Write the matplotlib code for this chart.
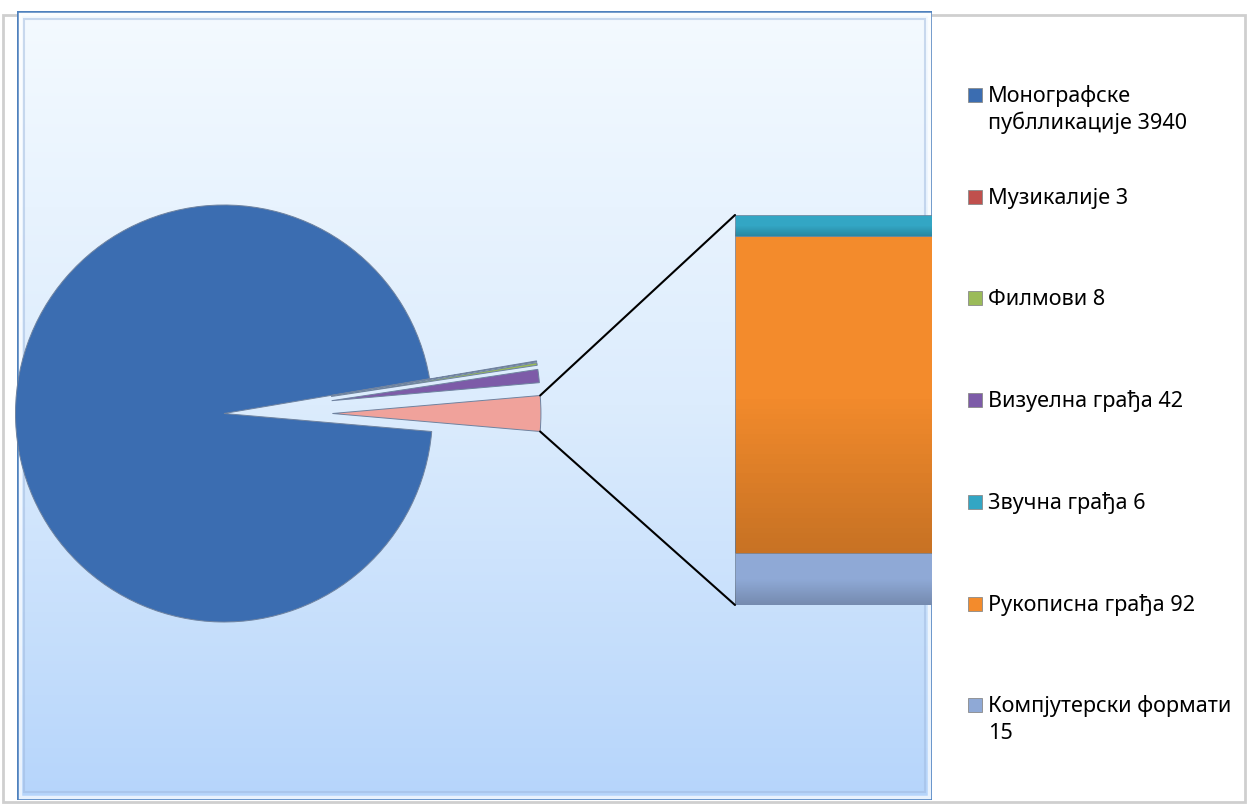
import textwrap
import numpy as np
import matplotlib
matplotlib.use("Agg")
import matplotlib.pyplot as plt
from matplotlib.patches import Rectangle, ConnectionPatch
from matplotlib.colors import LinearSegmentedColormap

plt.rcParams['font.family'] = ['Noto Sans', 'DejaVu Sans']

# ---------------- data ----------------
pie_labels = ["Монографске публликације", "Музикалије", "Филмови", "Визуелна грађа"]
pie_values = [3940, 3, 8, 42]
bar_labels = ["Звучна грађа", "Рукописна грађа", "Компјутерски формати"]
bar_values = [6, 92, 15]

pie_colors = ["#3b6db1", "#c0504d", "#9bbb59", "#7d5ba8"]
other_color = "#f0a29b"
bar_colors = ["#33a6c4", "#f38b2c", "#8fa9d6"]

# ---------------- layout (pixels) ----------------
W, H = 1248, 805
DPI = 100
fig = plt.figure(figsize=(W / DPI, H / DPI), dpi=DPI)
fig.patch.set_facecolor("white")


def fx(px):
    return px / W


def fy(py):
    return 1 - py / H


# chart area frame
frame_ax = fig.add_axes([0, 0, 1, 1])
frame_ax.set_xlim(0, W)
frame_ax.set_ylim(H, 0)
frame_ax.axis("off")
frame_ax.add_patch(Rectangle((3, 15), 1242, 787, facecolor="white",
                             edgecolor="#cfcfcf", lw=2.0))

# plot area
PX0, PX1, PY0, PY1 = 17, 932, 11, 800
bg_ax = fig.add_axes([fx(PX0), fy(PY1), (PX1 - PX0) / W, (PY1 - PY0) / H])
grad = np.linspace(0, 1, 256).reshape(-1, 1)
cmap = LinearSegmentedColormap.from_list("bg", ["#f4faff", "#dcecfd", "#b6d5fb"])
bg_ax.imshow(grad, aspect="auto", cmap=cmap, extent=[0, 1, 0, 1], origin="upper")
bg_ax.set_xlim(0, 1)
bg_ax.set_ylim(0, 1)
bg_ax.axis("off")
bg_ax.add_patch(Rectangle((0.008, 0.01), 0.984, 0.98, transform=bg_ax.transAxes,
                          facecolor="none", edgecolor="#9fb9de", lw=1.5, alpha=0.5))
bg_ax.add_patch(Rectangle((0.003, 0.004), 0.994, 0.992, transform=bg_ax.transAxes,
                          facecolor="none", edgecolor="#ffffff", lw=2.5, alpha=0.7))
bg_ax.add_patch(Rectangle((0, 0), 1, 1, transform=bg_ax.transAxes,
                          facecolor="none", edgecolor="#4f81bd", lw=1.8))

# ---------------- pie ----------------
CX, CY, R = 224, 413.5, 208.5
pie_ax = fig.add_axes([fx(PX0), fy(PY1), (PX1 - PX0) / W, (PY1 - PY0) / H])
pie_ax.patch.set_alpha(0)

other_value = sum(bar_values)
all_pie = pie_values + [other_value]
total = sum(all_pie)
other_deg = other_value / total * 360.0
explode = [0] + [0.52] * (len(all_pie) - 1)

wedges, _ = pie_ax.pie(all_pie, colors=pie_colors + [other_color], explode=explode,
                       startangle=360 - other_deg / 2, counterclock=False,
                       wedgeprops=dict(edgecolor="#6f83a0", linewidth=0.7))
pie_ax.set_xlim((PX0 - CX) / R, (PX1 - CX) / R)
pie_ax.set_ylim((CY - PY1) / R, (CY - PY0) / R)
pie_ax.set_aspect("equal")
pie_ax.axis("off")

# ---------------- bar ----------------
BX0, BX1, BY0, BY1 = 735, 932, 215, 605
bar_ax = fig.add_axes([fx(BX0), fy(BY1), (BX1 - BX0) / W, (BY1 - BY0) / H])
bar_ax.patch.set_alpha(0)
bottom = 0
bar_patches = []
for lab, val, col in zip(bar_labels[::-1], bar_values[::-1], bar_colors[::-1]):
    p = bar_ax.bar(0, val, bottom=bottom, width=1.0, color=col,
                   edgecolor="#6d7f96", linewidth=0.5)
    bar_patches.append(p[0])
    bottom += val
bar_patches = bar_patches[::-1]

# shading gradients on bars
shade = LinearSegmentedColormap.from_list("sh", [(0, 0, 0, 0.18), (0, 0, 0, 0.0), (1, 1, 1, 0.0)])
for p in bar_patches:
    x0, y0 = p.get_x(), p.get_y()
    im = bar_ax.imshow(np.linspace(1, 0, 64).reshape(-1, 1),
                       extent=[x0, x0 + p.get_width(), y0, y0 + p.get_height()],
                       aspect="auto", cmap=shade, origin="upper", zorder=3)
    im.set_clip_path(p)
bar_ax.set_xlim(-0.5, 0.5)
bar_ax.set_ylim(0, other_value)
bar_ax.axis("off")

# ---------------- connector lines ----------------
ow = wedges[-1]
ocx, ocy = ow.center
t_hi = np.deg2rad(max(ow.theta1, ow.theta2))
t_lo = np.deg2rad(min(ow.theta1, ow.theta2))
p_hi = (ocx + ow.r * np.cos(t_hi), ocy + ow.r * np.sin(t_hi))
p_lo = (ocx + ow.r * np.cos(t_lo), ocy + ow.r * np.sin(t_lo))
for pa, pb in [(p_hi, (-0.5, other_value)), (p_lo, (-0.5, 0))]:
    con = ConnectionPatch(xyA=pa, coordsA=pie_ax.transData, xyB=pb, coordsB=bar_ax.transData,
                          color="black", lw=1.5)
    fig.add_artist(con)

# ---------------- legend (manual) ----------------
leg_labels = pie_labels + bar_labels
leg_values = pie_values + bar_values
leg_colors = pie_colors + bar_colors
LEG_Y0, LEG_STEP, LINE_H = 95, 101.7, 26.5
for i, (lab, val, col) in enumerate(zip(leg_labels, leg_values, leg_colors)):
    yc = LEG_Y0 + i * LEG_STEP
    frame_ax.add_patch(Rectangle((968, yc - 7), 14, 14, facecolor=col,
                                 edgecolor="#8a8a8a", lw=0.6))
    lines = textwrap.wrap(f"{lab} {val}", width=20)
    for k, line in enumerate(lines):
        frame_ax.text(988, yc + 7 + k * LINE_H, line, fontsize=15.6, va="baseline",
                      ha="left", color="#000000")

fig.savefig("out.png", dpi=DPI)
